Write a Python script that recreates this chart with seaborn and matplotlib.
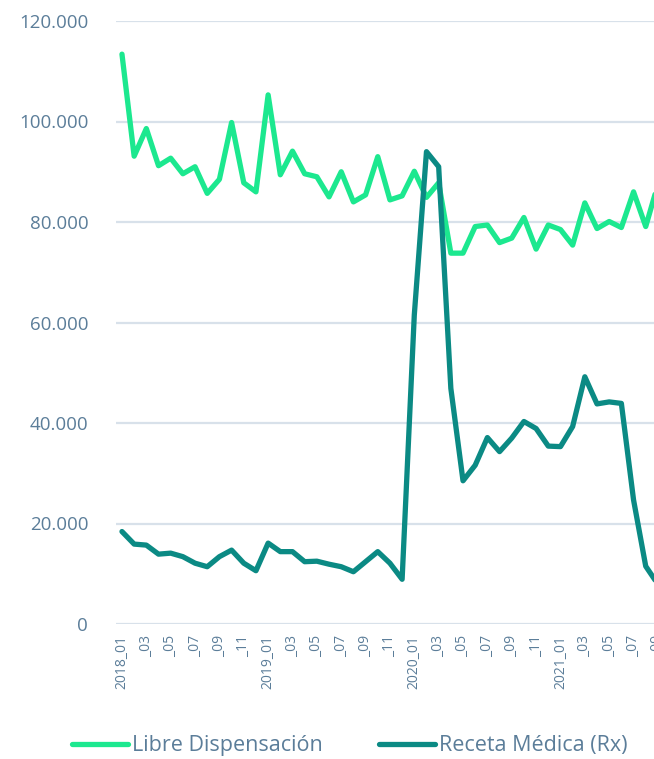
import matplotlib
matplotlib.use("Agg")
import matplotlib.pyplot as plt
from matplotlib.ticker import FuncFormatter
import seaborn as sns
import pandas as pd

# monthly series, 2018_01 .. 2021_09
months = [f"{y}_{m:02d}" for y in range(2018, 2022) for m in range(1, 13)][:45]

libre = [113400, 93100, 98600, 91200, 92700, 89600, 91000, 85700, 88500, 99800, 87800, 86000,
         105300, 89400, 94100, 89600, 89000, 85000, 90000, 84000, 85400, 93000, 84400, 85200,
         90100, 84900, 87800, 73800, 73800, 79100, 79400, 75900, 76800, 80900, 74600, 79400,
         78500, 75400, 83800, 78700, 80100, 78900, 86000, 79100, 87500]

receta = [18400, 15900, 15700, 13900, 14100, 13400, 12100, 11400, 13400, 14700, 12100, 10600,
          16100, 14400, 14400, 12400, 12500, 11900, 11400, 10400, 12400, 14400, 12100, 8900,
          61500, 94000, 91000, 46900, 28500, 31600, 37100, 34300, 37000, 40300, 38900, 35400,
          35300, 39300, 49200, 43800, 44200, 43900, 24700, 11500, 7900]

series_names = ["Libre Dispensación", "Receta Médica (Rx)"]
colors = ["#1ce88f", "#0b8a84"]
text_color = "#5b7d99"

tick_pos = list(range(0, 45, 2))
tick_labels = [m if m.endswith("_01") else "_" + m.split("_")[1] for m in (months[i] for i in tick_pos)]

df = pd.DataFrame({
    "idx": list(range(len(months))) * 2,
    "value": libre + receta,
    "serie": [series_names[0]] * len(months) + [series_names[1]] * len(months),
})

sns.set_style("white")
plt.rcParams["font.family"] = ["Open Sans", "DejaVu Sans"]

fig = plt.figure(figsize=(6.54, 7.59), dpi=100)
# axes runs slightly past the right edge, the chart is cut there
ax = fig.add_axes([116 / 654, 135 / 759, (664 - 116) / 654, (624 - 21) / 759])

sns.lineplot(data=df, x="idx", y="value", hue="serie", palette=dict(zip(series_names, colors)),
             linewidth=3.8, ax=ax, legend=False)

ax.set_xlim(-0.49, 44.5)
ax.set_ylim(0, 120000)
ax.set_yticks(range(0, 120001, 20000))
ax.yaxis.set_major_formatter(FuncFormatter(lambda v, p: f"{v:,.0f}".replace(",", ".")))
ax.set_xticks(tick_pos)
ax.set_xticklabels(tick_labels, rotation=90, fontsize=10, color=text_color)
ax.tick_params(axis="y", labelsize=13.5, labelcolor=text_color, length=0, pad=20)
ax.tick_params(axis="x", length=0, pad=8)
ax.grid(axis="y", color="#d8e1ea", linewidth=1.6)
ax.set_axisbelow(True)
for s in ax.spines.values():
    s.set_visible(False)
ax.set_xlabel("")
ax.set_ylabel("")

handles = [plt.Line2D([], [], color=c, linewidth=3.8, solid_capstyle="round") for c in colors]
fig.legend(handles, series_names, loc="center", bbox_to_anchor=(0.535, 13 / 759), ncol=2,
           frameon=False, fontsize=15.5, labelcolor=text_color, handlelength=2.6,
           handletextpad=0.2, columnspacing=2.6)

fig.savefig("out.png", dpi=100)
